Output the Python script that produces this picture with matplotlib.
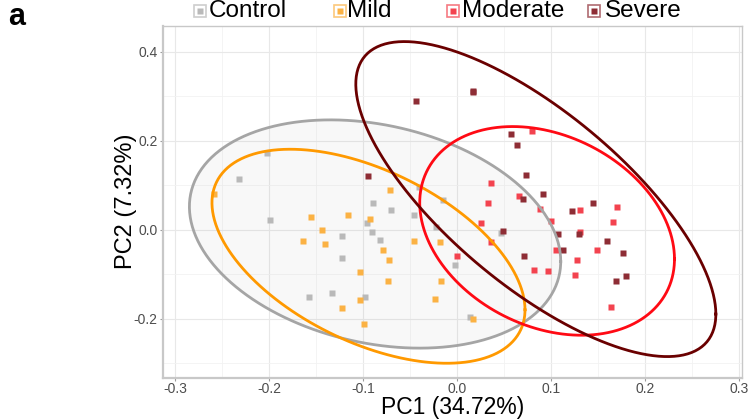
import numpy as np
import matplotlib
matplotlib.use('Agg')
import matplotlib.pyplot as plt
from matplotlib.lines import Line2D

plt.rcParams['font.family'] = ['Liberation Sans', 'DejaVu Sans']

groups = ['Control', 'Mild', 'Moderate', 'Severe']

control_x = [-0.202, -0.232, -0.041, -0.015, -0.090, -0.071, -0.046, -0.199, -0.096, -0.023,
             -0.091, -0.123, -0.082, -0.123, -0.002, -0.158, -0.133, -0.098, 0.014, 0.046]
control_y = [0.172, 0.115, 0.097, 0.067, 0.060, 0.045, 0.034, 0.021, 0.016, 0.007,
             -0.004, -0.013, -0.022, -0.064, -0.079, -0.150, -0.142, -0.150, -0.195, -0.007]

mild_x = [-0.259, -0.072, -0.156, -0.116, -0.093, -0.144, -0.164, -0.141, -0.046, -0.018,
          -0.079, -0.073, -0.104, -0.074, -0.017, -0.104, -0.123, -0.024, -0.099, 0.017]
mild_y = [0.081, 0.089, 0.028, 0.033, 0.025, 0.000, -0.025, -0.031, -0.025, -0.028,
          -0.045, -0.069, -0.095, -0.115, -0.115, -0.157, -0.175, -0.156, -0.211, -0.200]

moderate_x = [0.000, 0.036, 0.025, 0.033, 0.088, 0.100, 0.105, 0.082, 0.096, 0.130,
              0.170, 0.166, 0.131, 0.149, 0.127, 0.125, 0.164, 0.079, 0.036, 0.066]
moderate_y = [-0.060, -0.028, 0.015, 0.060, 0.046, 0.020, -0.046, -0.091, -0.093, 0.044,
              0.052, 0.018, -0.004, -0.045, -0.067, -0.101, -0.174, 0.222, 0.105, 0.077]

severe_x = [-0.095, -0.044, 0.017, 0.017, 0.057, 0.063, 0.073, 0.070, 0.091, 0.049,
            0.107, 0.112, 0.071, 0.122, 0.144, 0.129, 0.159, 0.176, 0.169, 0.179]
severe_y = [0.121, 0.289, 0.309, 0.313, 0.216, 0.190, 0.124, 0.069, 0.080, -0.002,
            -0.010, -0.046, -0.058, 0.043, 0.060, -0.010, -0.025, -0.052, -0.116, -0.104]

# ellipse: centre, half-width (x), half-height (y), correlation
ell_cx = [-0.0875, -0.0945, 0.0955, 0.0835]
ell_cy = [-0.0095, -0.0595, -0.0025, 0.069]
ell_w = [0.1975, 0.1665, 0.1355, 0.1915]
ell_h = [0.2565, 0.2405, 0.2345, 0.354]
ell_rho = [-0.24, -0.50, -0.27, -0.73]

pt_colors = ['#b9b9b9', '#fbb244', '#f3434f', '#8e2d35']
line_colors = ['#a5a5a5', '#ff9900', '#ff0a14', '#6a0000']

xs = [control_x, mild_x, moderate_x, severe_x]
ys = [control_y, mild_y, moderate_y, severe_y]

fig = plt.figure(figsize=(7.55, 4.19), dpi=100)
ax = fig.add_axes([0.216, 0.098, 0.767, 0.841])

t = np.linspace(0, 2 * np.pi, 300)
ell = []
for i in range(4):
    phi = np.arccos(ell_rho[i])
    ex = ell_cx[i] + ell_w[i] * np.cos(t)
    ey = ell_cy[i] + ell_h[i] * np.cos(t - phi)
    ell.append((ex, ey))

# only the control ellipse shows a visible grey fill
ax.fill(ell[0][0], ell[0][1], color='#888888', alpha=0.055, lw=0, zorder=1)

for i in range(4):
    ax.plot(xs[i], ys[i], 's', ms=4.8, color=pt_colors[i], mec='none', zorder=2)

for i in range(4):
    ax.plot(ell[i][0], ell[i][1], color=line_colors[i], lw=2.0, zorder=3)

ax.set_xlim(-0.313, 0.303)
ax.set_ylim(-0.333, 0.459)
ax.set_xticks([-0.3, -0.2, -0.1, 0.0, 0.1, 0.2, 0.3])
ax.set_yticks([-0.2, 0.0, 0.2, 0.4])
ax.set_xticks(np.arange(-0.25, 0.3, 0.1), minor=True)
ax.set_yticks([-0.3, -0.1, 0.1, 0.3], minor=True)
ax.set_xticklabels(['-0.3', '-0.2', '-0.1', '0.0', '0.1', '0.2', '0.3'])
ax.set_yticklabels(['-0.2', '0.0', '0.2', '0.4'])
ax.grid(True, which='major', color='#e8e8e8', lw=0.8, zorder=0)
ax.grid(True, which='minor', color='#f2f2f2', lw=0.6, zorder=0)
ax.set_axisbelow(True)
ax.tick_params(which='major', length=2.5, width=0.8, color='#9a9a9a', labelsize=10,
               labelcolor='#4d4d4d', pad=1.5)
ax.tick_params(axis='x', pad=0.5)
ax.tick_params(which='minor', length=0)
for s in ax.spines.values():
    s.set_color('#c8c8c8')
    s.set_linewidth(1.0)
ax.spines['left'].set_linewidth(1.6)
ax.spines['bottom'].set_linewidth(1.6)

ax.set_xlabel('PC1 (34.72%)', fontsize=16.5, va='center')
ax.set_ylabel('PC2 (7.32%)', fontsize=17, va='center')
ax.xaxis.set_label_coords(0.5, -0.083)
ax.yaxis.set_label_coords(-0.064, 0.5)

# legend along the top
key_x = [200, 340, 453, 594]
lab_x = [209, 347, 462, 605]
ly = 1 - 11 / 419
for i in range(4):
    kx = key_x[i] / 755
    fig.add_artist(Line2D([kx], [ly], marker='s', ms=8, mfc='white', mec=pt_colors[i],
                          mew=1.2, alpha=0.7, transform=fig.transFigure))
    fig.add_artist(Line2D([kx], [ly], marker='s', ms=4.2, color=pt_colors[i], mec='none',
                          transform=fig.transFigure))
    fig.text(lab_x[i] / 755, ly, groups[i], fontsize=17.5, va='center', ha='left')

fig.text(8 / 755, 1 - 17 / 419, 'a', fontsize=22, fontweight='bold', va='center', ha='left')

fig.savefig('out.png', dpi=100)
